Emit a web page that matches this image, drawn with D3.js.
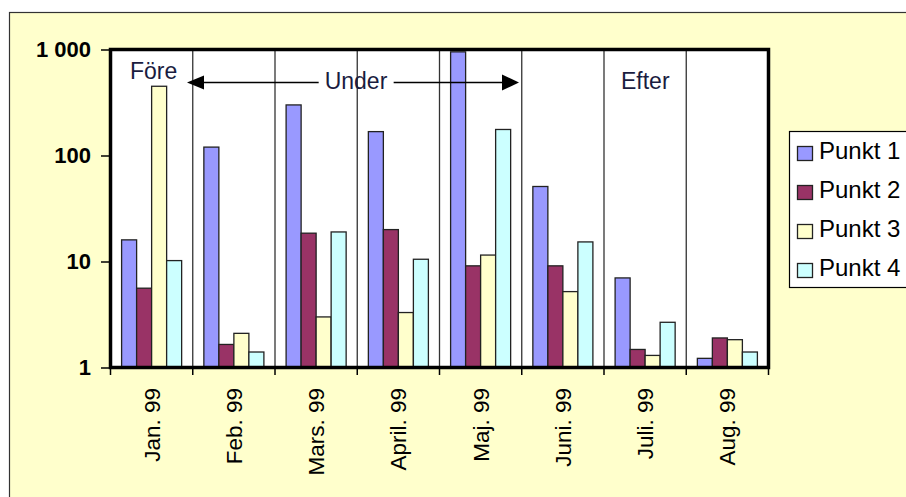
<!DOCTYPE html>
<html>
<head>
<meta charset="utf-8">
<script src="https://cdn.jsdelivr.net/npm/d3@7"></script>
<style>
  html, body { margin: 0; padding: 0; background: #fff; }
  svg { display: block; font-family: "Liberation Sans", Arial, sans-serif; }
</style>
</head>
<body>
<svg id="chart" width="906" height="497"></svg>
<script>
// Monthly measurements at four points, log scale
const months = ["Jan. 99", "Feb. 99", "Mars. 99", "April. 99", "Maj. 99", "Juni. 99", "Juli. 99", "Aug. 99"];
const seriesNames = ["Punkt 1", "Punkt 2", "Punkt 3", "Punkt 4"];
const punkt1 = [16, 120, 300, 168, 950, 51, 7.0, 1.22];
const punkt2 = [5.6, 1.65, 18.5, 20, 9.1, 9.1, 1.48, 1.9];
const punkt3 = [450, 2.1, 3.0, 3.3, 11.5, 5.2, 1.3, 1.83];
const punkt4 = [10.2, 1.4, 19, 10.5, 176, 15.3, 2.67, 1.4];
const seriesValues = [punkt1, punkt2, punkt3, punkt4];
const seriesColors = ["#9999ff", "#993366", "#ffffcc", "#ccffff"];
const yTicks = [1, 10, 100, 1000];
const yTickLabels = ["1", "10", "100", "1 000"];

const svg = d3.select("#chart");
const W = 906, H = 497;
const plot = { left: 110.5, right: 768.5, top: 49.5, bottom: 367.5 };

// Outer frame (light yellow chart area)
svg.append("rect").attr("x", 9.5).attr("y", 12.5).attr("width", W).attr("height", H)
  .attr("fill", "#ffffcc").attr("stroke", "#333").attr("stroke-width", 1.2);

// Plot area
svg.append("rect").attr("x", plot.left).attr("y", plot.top)
  .attr("width", plot.right - plot.left).attr("height", plot.bottom - plot.top)
  .attr("fill", "#fff");

const x = d3.scaleBand().domain(months).range([plot.left, plot.right]).padding(0);
const xs = d3.scaleBand().domain(seriesNames).range([0, x.bandwidth()])
  .paddingInner(0).paddingOuter(0.74);
const y = d3.scaleLog().domain([1, 1000]).range([plot.bottom, plot.top]);

// Vertical separators between months
svg.append("g").selectAll("line").data(months.slice(1)).join("line")
  .attr("x1", d => x(d)).attr("x2", d => x(d))
  .attr("y1", plot.top).attr("y2", plot.bottom)
  .attr("stroke", "#333").attr("stroke-width", 1.3);

// Bars
const barData = [];
months.forEach((m, i) => seriesNames.forEach((s, j) => {
  barData.push({ month: m, series: s, value: seriesValues[j][i], color: seriesColors[j] });
}));
svg.append("g").selectAll("rect").data(barData).join("rect")
  .attr("x", d => x(d.month) + xs(d.series))
  .attr("width", xs.bandwidth())
  .attr("y", d => y(d.value))
  .attr("height", d => y(1) - y(d.value))
  .attr("fill", d => d.color)
  .attr("stroke", "#222").attr("stroke-width", 1.3);

// Plot border
svg.append("rect").attr("x", plot.left).attr("y", plot.top)
  .attr("width", plot.right - plot.left).attr("height", plot.bottom - plot.top)
  .attr("fill", "none").attr("stroke", "#000").attr("stroke-width", 3.5);

// Y axis
const yAxis = d3.axisLeft(y).tickValues(yTicks)
  .tickFormat((d, i) => yTickLabels[i]).tickSize(8).tickPadding(10);
const gy = svg.append("g").attr("transform", `translate(${plot.left - 1.5},0)`).call(yAxis);
gy.select(".domain").remove();
gy.selectAll(".tick line").attr("stroke", "#000").attr("stroke-width", 1.5);
gy.selectAll(".tick text").attr("fill", "#000")
  .style("font-size", "22px").style("font-weight", "bold")
  .style("font-family", "'Liberation Sans', Arial, sans-serif");

// X axis: ticks on month boundaries, rotated labels at band centres
const gx = svg.append("g").attr("transform", `translate(0,${plot.bottom + 1.5})`);
gx.selectAll("line").data(months.concat(["_end"])).join("line")
  .attr("x1", (d, i) => i < months.length ? x(d) : plot.right)
  .attr("x2", (d, i) => i < months.length ? x(d) : plot.right)
  .attr("y1", 0).attr("y2", 6)
  .attr("stroke", "#000").attr("stroke-width", 1.5);
gx.selectAll("text").data(months).join("text")
  .attr("transform", d => `translate(${x(d) + x.bandwidth() / 2},19) rotate(-90)`)
  .attr("text-anchor", "end").attr("dy", "0.35em")
  .attr("fill", "#000").style("font-size", "22.5px")
  .text(d => d);

// Period annotations
const annColor = "#1a1c40";
svg.append("text").attr("x", 130).attr("y", 79).attr("fill", annColor)
  .style("font-size", "23px").text("Före");
svg.append("text").attr("x", 621).attr("y", 89).attr("fill", annColor)
  .style("font-size", "23px").text("Efter");
const underText = svg.append("text").attr("x", 356).attr("y", 89)
  .attr("text-anchor", "middle").attr("fill", annColor)
  .style("font-size", "23px").text("Under");
const ub = underText.node().getBBox();
const arrowY = 82.5, arrowL = 187, arrowR = 519;
const ag = svg.append("g");
ag.append("line").attr("x1", arrowL + 14).attr("x2", ub.x - 6)
  .attr("y1", arrowY).attr("y2", arrowY).attr("stroke", "#000").attr("stroke-width", 1.3);
ag.append("line").attr("x1", ub.x + ub.width + 6).attr("x2", arrowR - 14)
  .attr("y1", arrowY).attr("y2", arrowY).attr("stroke", "#000").attr("stroke-width", 1.3);
ag.append("path").attr("d", `M${arrowL},${arrowY} L${arrowL + 17},${arrowY - 7} L${arrowL + 17},${arrowY + 7} Z`)
  .attr("fill", "#000");
ag.append("path").attr("d", `M${arrowR},${arrowY} L${arrowR - 17},${arrowY - 8} L${arrowR - 17},${arrowY + 8} Z`)
  .attr("fill", "#000");

// Legend
const lg = svg.append("g");
lg.append("rect").attr("x", 789.5).attr("y", 131.5).attr("width", 140).attr("height", 156)
  .attr("fill", "#fff").attr("stroke", "#000").attr("stroke-width", 1.2);
const rows = lg.selectAll("g.row").data(seriesNames).join("g")
  .attr("class", "row")
  .attr("transform", (d, i) => `translate(797,${146 + i * 39})`);
rows.append("rect").attr("x", 0.5).attr("y", 0.5).attr("width", 15).attr("height", 14)
  .attr("fill", (d, i) => seriesColors[i]).attr("stroke", "#222").attr("stroke-width", 1.3);
rows.append("text").attr("x", 22).attr("y", 13).attr("fill", "#000")
  .style("font-size", "24px").text(d => d);
</script>
</body>
</html>
